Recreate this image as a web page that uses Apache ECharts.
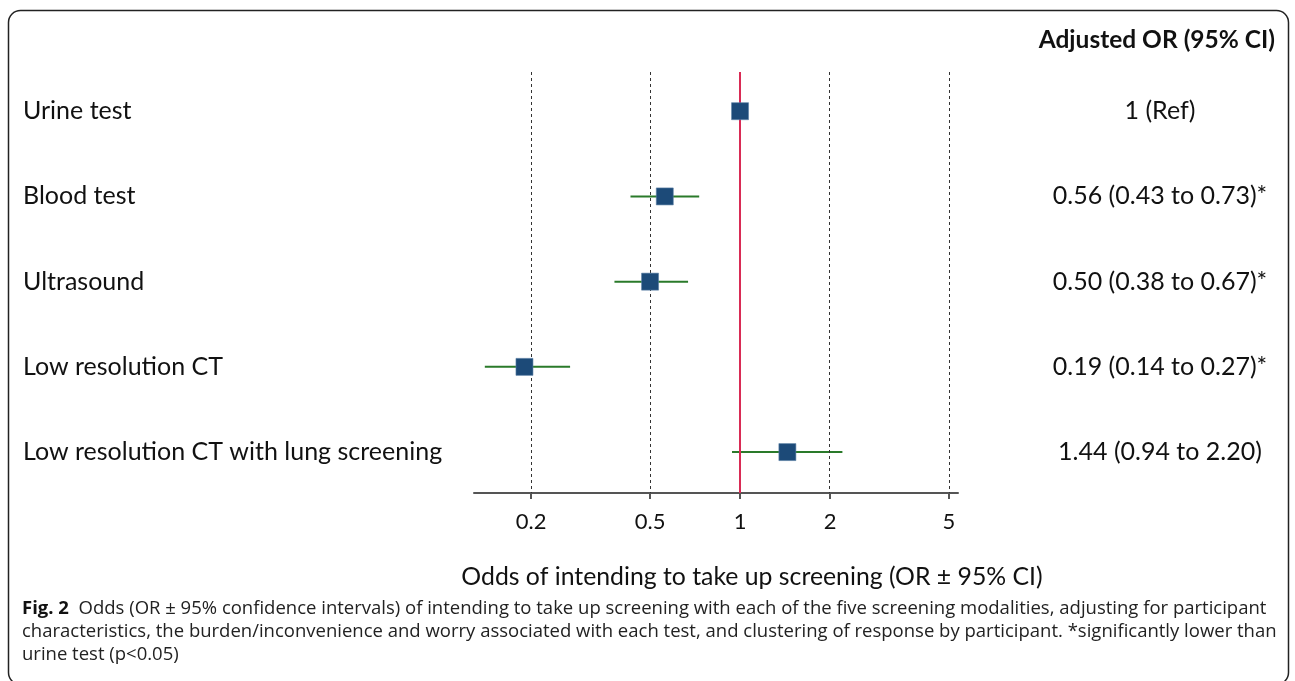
<!DOCTYPE html>
<html>
<head>
<meta charset="utf-8">
<script src="https://cdn.jsdelivr.net/npm/echarts@6/dist/echarts.min.js"></script>
<style>
html,body{margin:0;padding:0;background:#fff;}
#chart{width:1295px;height:681px;}
</style>
</head>
<body>
<div id="chart"></div>
<script>
// ---- data ----
const categories = ['Urine test', 'Blood test', 'Ultrasound', 'Low resolution CT', 'Low resolution CT with lung screening'];
const oddsRatio = [1, 0.56, 0.50, 0.19, 1.44];
const ciLower = [null, 0.43, 0.38, 0.14, 0.94];
const ciUpper = [null, 0.73, 0.67, 0.27, 2.20];
const orLabels = ['1 (Ref)', '0.56 (0.43 to 0.73)*', '0.50 (0.38 to 0.67)*', '0.19 (0.14 to 0.27)*', '1.44 (0.94 to 2.20)'];
const tickValues = [0.2, 0.5, 1, 2, 5];
const tickLabels = ['0.2', '0.5', '1', '2', '5'];
const refLineValue = 1;
const dashedLineValues = [0.2, 0.5, 2, 5];
const rowPositions = [1, 2, 3, 4, 5];
const columnHeader = 'Adjusted OR (95% CI)';
const xAxisTitle = 'Odds of intending to take up screening (OR \u00b1 95% CI)';
const captionLines = [
  'Odds (OR \u00b1 95% confidence intervals) of intending to take up screening with each of the five screening modalities, adjusting for participant',
  'characteristics, the burden/inconvenience and worry associated with each test, and clustering of response by participant. *significantly lower than',
  'urine test (p<0.05)'
];

const L = v => Math.log10(v);
const chartFont = 'Lato, "Open Sans", sans-serif';
const capFont = '"Open Sans", "Noto Sans", sans-serif';

const pointData = oddsRatio.map((v, i) => [L(v), rowPositions[i]]);
const ciData = oddsRatio.map((v, i) => ciLower[i] == null ? null : [L(ciLower[i]), L(ciUpper[i]), rowPositions[i]]).filter(d => d);

const chart = echarts.init(document.getElementById('chart'));
chart.setOption({
  backgroundColor: '#fff',
  animation: false,
  title: {
    text: columnHeader, right: 15, top: 23,
    textStyle: { fontFamily: chartFont, fontSize: 24.5, fontWeight: 'bold', color: '#111' }
  },
  grid: { left: 474, right: 337, top: 72, bottom: 188, containLabel: false },
  xAxis: {
    type: 'value', min: L(0.1288), max: L(5.36),
    axisLine: { show: true, lineStyle: { color: '#555', width: 2 } },
    axisTick: { show: true, customValues: tickValues.map(L), length: 6, lineStyle: { color: '#555', width: 2 } },
    axisLabel: {
      customValues: tickValues.map(L), margin: 18,
      formatter: v => tickLabels[tickValues.findIndex(t => Math.abs(L(t) - v) < 1e-6)],
      fontFamily: chartFont, fontSize: 22, color: '#111'
    },
    splitLine: { show: false }
  },
  yAxis: [{
    type: 'value', inverse: true, min: 0.54, max: 5.48,
    axisLine: { show: false }, axisTick: { show: false }, splitLine: { show: false },
    axisLabel: {
      customValues: rowPositions, align: 'left', margin: 451,
      formatter: v => categories[rowPositions.indexOf(Math.round(v))],
      fontFamily: chartFont, fontSize: 25, color: '#111'
    }
  }, {
    type: 'value', inverse: true, min: 0.54, max: 5.48, position: 'right',
    axisLine: { show: false }, axisTick: { show: false }, splitLine: { show: false },
    axisLabel: {
      customValues: rowPositions, align: 'center', margin: 202,
      formatter: v => orLabels[rowPositions.indexOf(Math.round(v))],
      fontFamily: chartFont, fontSize: 25, color: '#111'
    }
  }],
  graphic: [
    {
      type: 'rect', silent: true,
      shape: { x: 8.5, y: 10.5, width: 1280, height: 674, r: 12 },
      style: { fill: 'none', stroke: '#222', lineWidth: 1.5 }
    },
    {
      type: 'text', silent: true,
      x: 752, y: 577,
      style: { text: xAxisTitle, textAlign: 'center', textVerticalAlign: 'middle', font: '24.8px ' + chartFont, fill: '#111' }
    },
    {
      type: 'text', x: 22, y: 609, silent: true,
      style: {
        text: '{b|Fig. 2}  ' + captionLines[0],
        textVerticalAlign: 'middle',
        rich: { b: { fontWeight: 'bold', fontFamily: capFont, fontSize: 18.5, fill: '#111' } },
        font: '18.5px ' + capFont, fill: '#222'
      }
    },
    {
      type: 'text', x: 22, y: 632, silent: true,
      style: { text: captionLines[1], textVerticalAlign: 'middle', font: '18.5px ' + capFont, fill: '#222' }
    },
    {
      type: 'text', x: 22, y: 655, silent: true,
      style: { text: captionLines[2], textVerticalAlign: 'middle', font: '18.5px ' + capFont, fill: '#222' }
    }
  ],
  series: [
    {
      type: 'custom', name: 'CI', xAxisIndex: 0, yAxisIndex: 0, z: 3,
      data: ciData,
      renderItem: (params, api) => {
        const a = api.coord([api.value(0), api.value(2)]);
        const b = api.coord([api.value(1), api.value(2)]);
        return { type: 'line', shape: { x1: a[0], y1: a[1], x2: b[0], y2: b[1] }, style: { stroke: '#2a7a2a', lineWidth: 2 } };
      },
      markLine: {
        silent: true, symbol: 'none', label: { show: false },
        data: [
          ...dashedLineValues.map(v => ({ xAxis: L(v), lineStyle: { color: '#333', type: [3, 3], width: 1 } })),
          { xAxis: L(refLineValue), lineStyle: { color: '#d92b55', type: 'solid', width: 2 } }
        ]
      }
    },
    {
      type: 'scatter', name: 'OR', xAxisIndex: 0, yAxisIndex: 0, z: 5,
      symbol: 'rect', symbolSize: 17,
      itemStyle: { color: '#1c4a78', borderColor: '#5a7fa5', borderWidth: 0.6, opacity: 1 },
      data: pointData
    }
  ]
});
</script>
</body>
</html>
